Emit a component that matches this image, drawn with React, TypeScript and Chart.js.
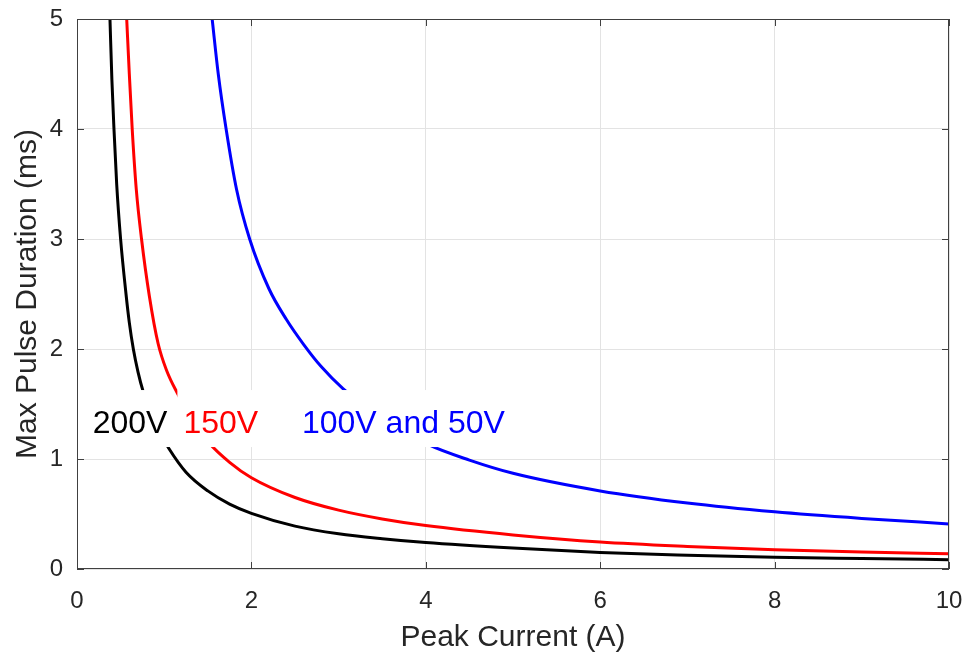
import { useEffect, useRef } from "react"
import { Chart, registerables } from "chart.js"

Chart.register(...registerables)

// Peak current (A) vs. max pulse duration (ms)
const current200 = [0.378, 0.4, 0.424, 0.455, 0.5, 0.562, 0.6, 0.646, 0.7, 0.76, 0.9, 1.05, 1.25, 1.5, 1.75, 2, 2.5, 3, 3.5, 4, 5, 6, 7, 8, 9, 10]
const duration200 = [5, 4.45, 4, 3.5, 3, 2.5, 2.24, 2, 1.79, 1.61, 1.31, 1.1, 0.88, 0.71, 0.59, 0.506, 0.39, 0.32, 0.275, 0.24, 0.19, 0.15, 0.125, 0.106, 0.095, 0.085]

const current150 = [0.57, 0.6, 0.633, 0.68, 0.74, 0.83, 0.93, 1.03, 1.15, 1.32, 1.51, 1.75, 2, 2.5, 3, 3.5, 4, 5, 6, 7, 8, 9, 10]
const duration150 = [5, 4.5, 4, 3.45, 3, 2.48, 2.05, 1.8, 1.6, 1.36, 1.15, 0.97, 0.83, 0.65, 0.535, 0.455, 0.395, 0.31, 0.245, 0.205, 0.175, 0.155, 0.139]

const current100 = [1.55, 1.62, 1.71, 1.83, 1.98, 2.2, 2.4, 2.6, 2.8, 3.05, 3.5, 4.03, 4.5, 5, 6, 7, 8, 9, 10]
const duration100 = [5, 4.5, 4, 3.45, 3, 2.55, 2.27, 2.04, 1.84, 1.64, 1.37, 1.13, 0.99, 0.87, 0.71, 0.6, 0.52, 0.46, 0.41]

// in-plot labels (left edge x, baseline y in data units)
const labelTexts = ["200V", "150V", "100V and 50V"]
const labelColors = ["#000000", "#ff0000", "#0000ff"]
const labelX = [0.18, 1.22, 2.58]
const labelBaseY = 1.236

const FONT = "'Liberation Sans', Arial, Helvetica, sans-serif"
const AXIS_COLOR = "#404040"
const TEXT_COLOR = "#262626"

const toPoints = (xs: number[], ys: number[]) => xs.map((x, i) => ({ x, y: ys[i] }))

const labelPlugin = {
  id: "voltageLabels",
  afterDatasetsDraw(chart: any) {
    const { ctx, scales } = chart
    ctx.save()
    ctx.font = `32px ${FONT}`
    ctx.textBaseline = "alphabetic"
    ctx.textAlign = "left"
    labelTexts.forEach((text, i) => {
      const x = scales.x.getPixelForValue(labelX[i])
      const y = scales.y.getPixelForValue(labelBaseY)
      const w = ctx.measureText(text).width
      ctx.fillStyle = "#ffffff"
      ctx.fillRect(x - 6, y - 43, w + 12, 57)
      ctx.fillStyle = labelColors[i]
      ctx.fillText(text, x, y)
    })
    ctx.restore()
  },
}

const boxPlugin = {
  id: "axesBox",
  afterDraw(chart: any) {
    const { ctx, chartArea, scales } = chart
    const { left, right, top, bottom } = chartArea
    ctx.save()
    ctx.strokeStyle = AXIS_COLOR
    ctx.lineWidth = 1
    ctx.strokeRect(left + 0.5, top + 0.5, right - left - 1, bottom - top - 1)
    ctx.beginPath()
    scales.x.ticks.forEach((t: any) => {
      const px = Math.round(scales.x.getPixelForValue(t.value)) + 0.5
      ctx.moveTo(px, bottom)
      ctx.lineTo(px, bottom - 7)
      ctx.moveTo(px, top)
      ctx.lineTo(px, top + 7)
    })
    scales.y.ticks.forEach((t: any) => {
      const py = Math.round(scales.y.getPixelForValue(t.value)) + 0.5
      ctx.moveTo(left, py)
      ctx.lineTo(left + 7, py)
      ctx.moveTo(right, py)
      ctx.lineTo(right - 7, py)
    })
    ctx.stroke()
    ctx.restore()
  },
}

function PulseChart() {
  const chartRef = useRef<HTMLCanvasElement>(null)
  const chartInstance = useRef<Chart | null>(null)

  useEffect(() => {
    if (!chartRef.current) return
    if (chartInstance.current) chartInstance.current.destroy()

    const lineStyle = {
      borderWidth: 3,
      pointRadius: 0,
      fill: false,
      cubicInterpolationMode: "monotone" as const,
    }

    chartInstance.current = new Chart(chartRef.current, {
      type: "line",
      data: {
        datasets: [
          { label: "200V", data: toPoints(current200, duration200), borderColor: "#000000", ...lineStyle },
          { label: "150V", data: toPoints(current150, duration150), borderColor: "#ff0000", ...lineStyle },
          { label: "100V and 50V", data: toPoints(current100, duration100), borderColor: "#0000ff", ...lineStyle },
        ],
      },
      options: {
        responsive: false,
        animation: false,
        layout: { padding: { top: 19, right: 18, left: 0, bottom: 0 } },
        scales: {
          x: {
            type: "linear",
            min: 0,
            max: 10,
            ticks: { stepSize: 2, color: TEXT_COLOR, font: { family: FONT, size: 24 }, padding: 18 },
            grid: { color: "#e3e3e3", drawTicks: false },
            border: { display: false },
            title: {
              display: true,
              text: "Peak Current (A)",
              color: TEXT_COLOR,
              font: { family: FONT, size: 30 },
              padding: { top: 0, bottom: 1 },
            },
            afterFit: (scale: any) => {
              scale.height = 88
              scale.paddingLeft = 0
              scale.paddingRight = 0
            },
          },
          y: {
            type: "linear",
            min: 0,
            max: 5,
            ticks: { stepSize: 1, color: TEXT_COLOR, font: { family: FONT, size: 24 }, padding: 14 },
            grid: { color: "#e3e3e3", drawTicks: false },
            border: { display: false },
            title: {
              display: true,
              text: "Max Pulse Duration (ms)",
              color: TEXT_COLOR,
              font: { family: FONT, size: 30 },
              padding: { top: 10, bottom: 0 },
            },
            afterFit: (scale: any) => {
              scale.width = 77
              scale.paddingTop = 0
              scale.paddingBottom = 0
            },
          },
        },
        plugins: {
          legend: { display: false },
          tooltip: { enabled: false },
        },
      },
      plugins: [labelPlugin, boxPlugin],
    })

    return () => {
      if (chartInstance.current) {
        chartInstance.current.destroy()
        chartInstance.current = null
      }
    }
  }, [])

  return (
    <div style={{ position: "absolute", left: 0, top: 0, width: 967, height: 657, background: "#fff" }}>
      <canvas ref={chartRef} width={967} height={657} style={{ width: 967, height: 657 }}></canvas>
    </div>
  )
}

export default function App() {
  return <PulseChart />
}
